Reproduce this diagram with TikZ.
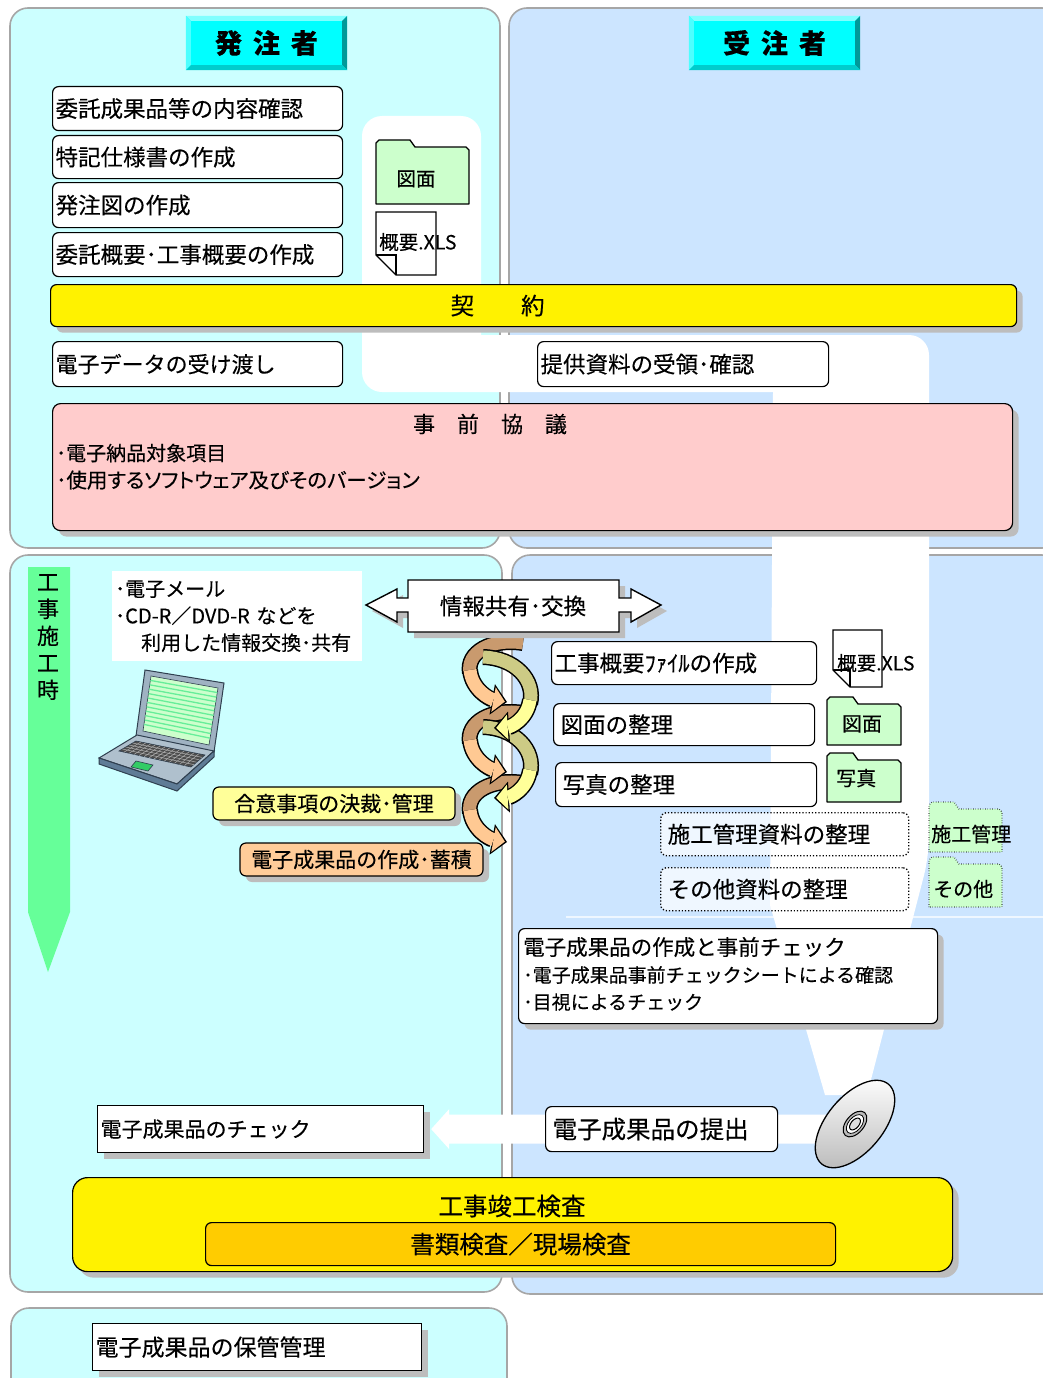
\documentclass[tikz,border=0pt]{standalone}
\usepackage{fontspec}
\setmainfont{Noto Sans CJK JP}[FakeBold=0.3]
\newfontfamily\jpp{Noto Sans CJK JP}[RawFeature=+palt, FakeBold=0.3]
\usetikzlibrary{shadows,arrows.meta,calc}
\newcommand\jfs[1]{\fontsize{#1}{#1}\selectfont}
\definecolor{lcyan}{HTML}{CCFFFF}
\definecolor{lblue}{HTML}{CCE5FF}
\definecolor{pline}{HTML}{A6A6A6}
\definecolor{hcyan}{HTML}{00FFFF}
\definecolor{hbtop}{HTML}{80FFFF}
\definecolor{hbleft}{HTML}{4DFFFF}
\definecolor{hbright}{HTML}{009999}
\definecolor{hbbot}{HTML}{00CCCC}
\definecolor{jpink}{HTML}{FFCCCC}
\definecolor{fgreen}{HTML}{CCFFCC}
\definecolor{vgreen}{HTML}{66FF99}
\definecolor{lyel}{HTML}{FFFF99}
\definecolor{lorange}{HTML}{FFCC99}
\definecolor{jgold}{HTML}{FFCC00}
\definecolor{shgray}{HTML}{BDBDBD}
\definecolor{hxbrown}{HTML}{C99A6E}
\definecolor{hxorange}{HTML}{FFC993}
\definecolor{hxkhaki}{HTML}{CDCB85}
\definecolor{hxyellow}{HTML}{FFFF99}
\definecolor{lidc}{HTML}{9FB2C2}
\definecolor{basec}{HTML}{AFC0CD}
\definecolor{edgec}{HTML}{5F7C96}
\definecolor{outc}{HTML}{2F3F4F}
\definecolor{scrline}{HTML}{66EE99}
\definecolor{padc}{HTML}{33CC66}

% helix band: dark outline, then coloured core
\newcommand\hxband[2]{%
  \draw[line width=16pt, black] #2;
  \draw[line width=13pt, #1] #2;}
\newcommand\hxarrow[2]{%
  \draw[line width=16pt, black, -{Triangle[length=15pt,width=31pt,line width=0pt]}] #2;
  \draw[line width=13pt, #1, shorten >=2.2pt, -{Triangle[length=11.5pt,width=25pt,line width=0pt]}] #2;}

\tikzset{
  pics/fold/.style n args={3}{code={%
    \draw[fill=fgreen, line width=1.3pt, line join=round]
      (0,#2) -- (0,3) -- (3,0) -- (#3-5,0) -- (#3,7) -- (#1-3,7) -- (#1,10) -- (#1,#2) -- cycle;}},
  pics/docpg/.style n args={3}{code={%
    \draw[fill=white, line width=1.3pt] (0,0) -- (#1,0) -- (#1,#2) -- (#3,#2) -- (0,#2-#3) -- cycle;
    \draw[line width=1.3pt] (0,#2-#3) -- (#3,#2-#3) -- (#3,#2);}}
}

\begin{document}
\begin{tikzpicture}[x=1pt,y=-1pt,
  box/.style={draw=black, line width=1.2pt, fill=white, rounded corners=6pt, anchor=north west,
              inner xsep=3pt, inner ysep=0pt, align=left, font=\jfs{22.5}},
  sqbox/.style={box, rounded corners=0pt},
  dotbox/.style={box, dotted, line width=1.4pt, fill=white, fill opacity=0.7, text opacity=1},
  shd/.style={drop shadow={shadow xshift=6pt, shadow yshift=-6pt, fill=shgray, opacity=1}},
  panel/.style={draw=pline, line width=1.6pt, rounded corners=18pt},
  hdr/.style={fill=hcyan, inner sep=0pt, font=\jfs{27}\bfseries},
  lbl/.style={inner sep=0pt}]
\useasboundingbox (0,0) rectangle (1042,1378);
\fill[white] (0,0) rectangle (1042,1378);

% ---- swim-lane panels
\filldraw[panel, fill=lcyan] (10,8) rectangle (500,548);
\filldraw[panel, fill=lblue] (509,8) rectangle (1060,548);
\filldraw[panel, fill=lcyan] (10,555) rectangle (502,1292);
\filldraw[panel, fill=lblue] (512,555) rectangle (1060,1294);
\filldraw[panel, fill=lcyan] (11,1308) rectangle (507,1400);

% ---- white flow band behind the boxes
\fill[white] [rounded corners=20pt] (362,116) -- (481,116) [sharp corners] -- (481,335)
  [rounded corners=20pt] -- (929,335) -- (929,856) [sharp corners] -- (867,1095) -- (825,1095)
  -- (770,905) -- (773,392) [rounded corners=20pt] -- (362,392) -- cycle;
\draw[white, line width=1.5pt, opacity=0.7] (566,917) -- (1046,917);

% ---- construction period arrow
\fill[vgreen] (28,567) -- (70,567) -- (70,912) -- (48,972) -- (28,912) -- cycle;
\node[lbl, anchor=north, align=center, font=\fontsize{22}{27}\selectfont] (period) at (48,574) {工\\事\\施\\工\\時};

% ---- headers
\node[hdr, minimum width=161, minimum height=54] (hdrL) at (266.5,43) {発\hspace{11pt}注\hspace{11pt}者};
\node[hdr, minimum width=171, minimum height=54] (hdrR) at (774.5,43) {受\hspace{11pt}注\hspace{11pt}者};
\foreach \h in {hdrL,hdrR}{
  \fill[hbtop] (\h.north west) -- (\h.north east) -- ([shift={(-5,5)}]\h.north east) -- ([shift={(5,5)}]\h.north west) -- cycle;
  \fill[hbleft] (\h.north west) -- ([shift={(5,5)}]\h.north west) -- ([shift={(5,-5)}]\h.south west) -- (\h.south west) -- cycle;
  \fill[hbright] (\h.north east) -- (\h.south east) -- ([shift={(-5,-5)}]\h.south east) -- ([shift={(-5,5)}]\h.north east) -- cycle;
  \fill[hbbot] (\h.south west) -- (\h.south east) -- ([shift={(-5,-5)}]\h.south east) -- ([shift={(5,-5)}]\h.south west) -- cycle;
}

% ---- client tasks before the contract
\node[box, text width=284, minimum height=44] (b1) at (52,86) {委託成果品等の内容確認};
\node[box, text width=284, minimum height=43] (b2) at (52,135) {特記仕様書の作成};
\node[box, text width=284, minimum height=45] (b3) at (52,182) {発注図の作成};
\node[box, text width=284, minimum height=44] (b4) at (52,232) {委託概要･工事概要の作成};

\path (376,140) pic {fold={93}{64}{39}};
\node[lbl, font=\jfs{19.5}] (f1) at (416,179) {図面};
\path (376,212) pic {docpg={60}{63}{20}};
\node[lbl, anchor=west, font=\jfs{19.5}] (d1) at (379,242) {概要.XLS};

% ---- contract
\node[box, shd, fill=yellow, minimum width=966, minimum height=42, inner sep=0pt,
      label={[font=\jfs{23.5}, xshift=-36pt]center:契　　約}] (keiyaku) at (50,284) {};

\node[box, text width=284, minimum height=45, font=\jfs{22}] (b5) at (52,341) {電子データの受け渡し};
\node[box, text width=285, minimum height=45] (b6) at (537,341) {提供資料の受領･確認};

% ---- pre-construction meeting
\node[box, shd, fill=jpink, rounded corners=8pt, minimum width=960, minimum height=127] (jizen) at (52,403) {};
\node[lbl, font=\jfs{22}] (jizenT) at (490,424) {事　前　協　議};
\node[lbl, anchor=west, font=\jfs{20}] (jizen1) at (56,453) {･電子納品対象項目};
\node[lbl, anchor=west, font=\jfs{20.5}] (jizen2) at (56,480) {\jpp ･使用するソフトウェア及びそのバージョン};

% ---- information exchange
\node[fill=white, anchor=north west, text width=244, minimum height=90, inner xsep=3pt, inner ysep=2pt,
      align=left, font=\fontsize{20}{27}\selectfont] (mail) at (112,571)
      {･電子メール\\･CD-R／DVD-R などを\\\hspace*{1.3em}利用した情報交換･共有};

% laptop
\filldraw[fill=lidc, draw=outc, line width=1pt] (145,670) -- (224,683) -- (214,752) -- (136,736) -- cycle;
\filldraw[fill=fgreen, draw=outc, line width=0.6pt] (151,676) -- (218,688) -- (209,745) -- (143,731) -- cycle;
\foreach \t in {0.08,0.16,...,0.96}
  \draw[scrline, line width=1.3pt] ($(151,676)!\t!(143,731)$) -- ($(218,688)!\t!(209,745)$);
\filldraw[fill=basec, draw=outc, line width=1pt] (137,735) -- (214,751) -- (177,784) -- (99,758) -- cycle;
\filldraw[fill=edgec, draw=outc, line width=1pt] (99,758) -- (177,784) -- (214,751) -- (214,757) -- (177,791) -- (99,764) -- cycle;
\filldraw[fill=black!70, draw=outc, line width=0.6pt] (136,741) -- (205,755) -- (191,767) -- (119,751) -- cycle;
\foreach \t in {0.2,0.4,0.6,0.8}
  \draw[gray!60, line width=0.5pt] ($(136,741)!\t!(119,751)$) -- ($(205,755)!\t!(191,767)$);
\foreach \t in {0.07,0.14,...,0.95}
  \draw[gray!60, line width=0.5pt] ($(136,741)!\t!(205,755)$) -- ($(119,751)!\t!(191,767)$);
\filldraw[fill=padc, draw=outc, line width=0.6pt] (136,761) -- (153,765) -- (148,771) -- (131,767) -- cycle;

% helix between the two parties
\foreach \d in {0,70,140}{
  \hxband{hxbrown}{(523,\d+643) .. controls (492,\d+638) and (466,\d+652) .. (470,\d+673)}
}
\foreach \d in {0,70}{
  \hxband{hxkhaki}{(483,\d+657) .. controls (515,\d+658) and (536,\d+680) .. (530,\d+704)}
}
\foreach \d in {0,70,140}{
  \hxarrow{hxorange}{(470,\d+670) .. controls (472,\d+690) and (490,\d+699) .. (507,\d+702)}
}
\foreach \d in {0,70}{
  \hxarrow{hxyellow}{(530,\d+700) .. controls (527,\d+720) and (510,\d+727) .. (494,\d+728)}
}

% double arrow
\filldraw[fill=white, draw=black, line width=1.4pt, shd]
  (366,605) -- (397,589) -- (397,598) -- (408,598) -- (408,580) -- (619,580) -- (619,598)
  -- (631,598) -- (631,589) -- (661,605) -- (631,622) -- (631,612) -- (619,612) -- (619,632)
  -- (408,632) -- (408,612) -- (397,612) -- (397,622) -- cycle;
\node[lbl, font=\jfs{22.5}] (info) at (513,606) {情報共有･交換};

\node[box, shd, fill=lyel, anchor=center, minimum width=242, minimum height=33, inner xsep=0pt,
      align=center, font=\jfs{21}] (goui) at (334,803.5) {合意事項の決裁･管理};
\node[box, shd, fill=lorange, anchor=center, minimum width=243, minimum height=33, inner xsep=0pt,
      align=center, font=\jfs{21}] (chiku) at (361.5,859.5) {電子成果品の作成･蓄積};

% ---- contractor tasks
\node[box, text width=259, minimum height=43] (c1) at (551,641) {工事概要ﾌｧｲﾙの作成};
\path (833,630) pic {docpg={49}{57}{17}};
\node[lbl, anchor=west, font=\jfs{19.5}] (d2) at (837,663) {概要.XLS};
\node[box, inner xsep=7pt, text width=247, minimum height=42] (c2) at (553,703) {図面の整理};
\path (827,697) pic {fold={74}{48}{31}};
\node[lbl, font=\jfs{20}] (f2) at (862,724) {図面};
\node[box, inner xsep=7pt, text width=247, minimum height=44] (c3) at (555,762) {写真の整理};
\path (827,753) pic {fold={74}{49}{31}};
\node[lbl, anchor=west, font=\jfs{20}] (f3) at (836,778) {写真};
\node[dotbox, inner xsep=7pt, text width=234, minimum height=43] (c4) at (660,812) {施工管理資料の整理};
\path (929,802) pic[dotted] {fold={73}{50}{30}};
\node[lbl, anchor=west, font=\jfs{20}] (f4) at (931,834) {施工管理};
\node[dotbox, inner xsep=7pt, text width=234, minimum height=43] (c5) at (660,867) {その他資料の整理};
\path (929,857) pic[dotted] {fold={73}{50}{30}};
\node[lbl, anchor=west, font=\jfs{20}] (f5) at (933,889) {その他};

\node[box, shd, minimum width=419, minimum height=95] (pre) at (518,928) {};
\node[lbl, anchor=west, font=\jfs{21.5}] (pre0) at (523,947) {電子成果品の作成と事前チェック};
\node[lbl, anchor=west, font=\jfs{19}] (pre1) at (523,975) {･電子成果品事前チェックシートによる確認};
\node[lbl, anchor=west, font=\jfs{19}] (pre2) at (523,1002) {･目視によるチェック};

% ---- submission and check
\coordinate (cd) at (855,1124);
\node[sqbox, shd, text width=320, minimum height=47, font=\jfs{21}] (chk) at (97,1105) {電子成果品のチェック};
% wide white arrow from the disc back to the client's check
\coordinate (wt) at ($(chk.east)+(7,0)$);
\fill[white] (wt) -- ($(wt)+(18,-20)$) -- ($(wt)+(18,-14.5)$) -- ($(wt -| cd)+(0,-14.5)$)
  -- ($(wt -| cd)+(0,14.5)$) -- ($(wt)+(18,14.5)$) -- ($(wt)+(18,20)$) -- cycle;
\node[box, inner xsep=7pt, text width=218, minimum height=45, font=\jfs{24.5}] (sub) at (545,1106) {電子成果品の提出};

% disc
\begin{scope}[rotate around={50:(cd)}]
  \draw[line width=1.3pt, top color=white, bottom color=gray!55] (cd) ellipse [x radius=52, y radius=28];
  \draw[fill=gray!55, line width=1pt] (cd) ellipse [x radius=15, y radius=9];
  \draw[fill=white, line width=0.8pt] (cd) ellipse [x radius=11, y radius=6.5];
  \draw[fill=gray!25, line width=1pt] (cd) ellipse [x radius=7, y radius=4];
\end{scope}

% ---- completion inspection
\node[box, shd, fill=yellow, rounded corners=15pt, minimum width=880, minimum height=94] (kensa) at (72,1177) {};
\node[lbl, font=\jfs{24.5}] (kensaT) at (512,1206) {工事竣工検査};
\node[box, fill=jgold, minimum width=630, minimum height=43, inner xsep=0pt, align=center, font=\jfs{24.5}] (kensa2) at (205,1222) {書類検査／現場検査};

% ---- storage
\node[sqbox, shd, text width=323, minimum height=47, font=\jfs{23}] (hokan) at (92,1323) {電子成果品の保管管理};
\end{tikzpicture}
\end{document}
